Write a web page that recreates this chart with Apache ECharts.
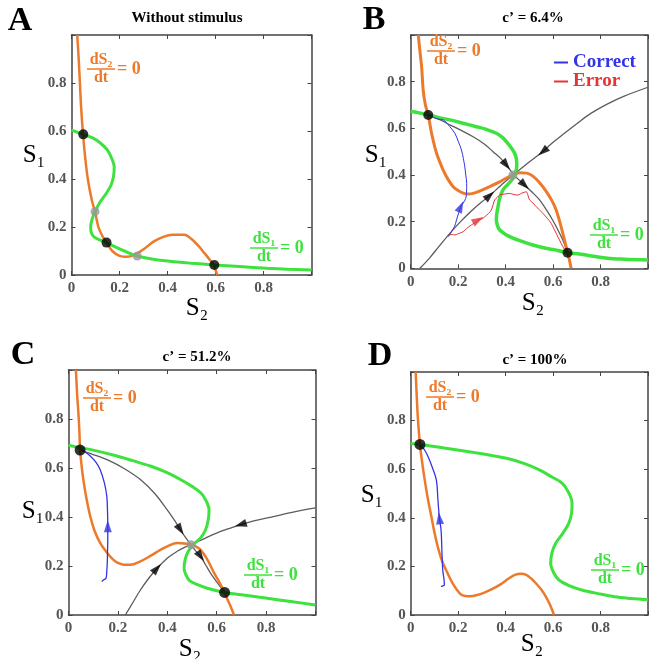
<!DOCTYPE html>
<html lang="en">
<head>
	<meta charset="UTF-8">
	<title>phase plane</title>
	<style>html,body{margin:0;padding:0;background:#fff}</style>
</head>
<body>
	<div id="main" style="width: 651px;height: 659px"></div>
	<script src="https://cdn.jsdelivr.net/npm/echarts@6/dist/echarts.min.js"></script>
	<script>
		// panel A - without stimulus  (points are [S2, S1])
		var orangeA = [[0.024,1.0],[0.030,0.90],[0.035,0.80],[0.040,0.70],[0.047,0.60],[0.056,0.50],[0.068,0.40],[0.085,0.31],[0.098,0.264],[0.112,0.20],[0.13,0.16],[0.146,0.135],[0.17,0.10],[0.20,0.08],[0.23,0.076],[0.26,0.083],[0.30,0.107],[0.34,0.138],[0.38,0.158],[0.42,0.168],[0.47,0.168],[0.50,0.15],[0.53,0.12],[0.555,0.09],[0.575,0.065],[0.59,0.045],[0.60,0.022],[0.607,0]];
		var greenA = [[0,0.604],[0.049,0.586],[0.09,0.57],[0.12,0.55],[0.15,0.52],[0.17,0.48],[0.178,0.45],[0.175,0.41],[0.165,0.375],[0.145,0.34],[0.12,0.305],[0.098,0.264],[0.085,0.23],[0.08,0.20],[0.083,0.175],[0.095,0.158],[0.12,0.145],[0.146,0.135],[0.18,0.118],[0.22,0.10],[0.274,0.079],[0.34,0.066],[0.40,0.058],[0.50,0.049],[0.595,0.042],[0.70,0.035],[0.813,0.028],[0.90,0.024],[1.0,0.021]];
		var stableA = [[0.049,0.586],[0.146,0.135],[0.595,0.042]];
		var saddleA = [[0.098,0.264],[0.274,0.079]];

		// panel B - c' = 6.4%
		var orangeB = [[0.032,1.0],[0.04,0.92],[0.046,0.864],[0.053,0.76],[0.062,0.70],[0.074,0.657],[0.088,0.579],[0.109,0.493],[0.137,0.421],[0.158,0.38],[0.179,0.35],[0.20,0.333],[0.221,0.322],[0.242,0.318],[0.263,0.321],[0.30,0.335],[0.333,0.35],[0.37,0.368],[0.40,0.385],[0.431,0.40],[0.46,0.41],[0.49,0.408],[0.515,0.395],[0.545,0.365],[0.571,0.33],[0.595,0.29],[0.613,0.25],[0.628,0.20],[0.641,0.15],[0.652,0.105],[0.661,0.067],[0.669,0.035],[0.676,0]];
		var greenB = [[0,0.673],[0.04,0.665],[0.074,0.657],[0.12,0.646],[0.165,0.636],[0.22,0.622],[0.277,0.607],[0.32,0.595],[0.361,0.579],[0.385,0.562],[0.403,0.543],[0.425,0.515],[0.438,0.493],[0.446,0.465],[0.447,0.436],[0.440,0.405],[0.428,0.382],[0.41,0.36],[0.389,0.336],[0.375,0.30],[0.368,0.264],[0.363,0.235],[0.361,0.207],[0.366,0.182],[0.375,0.164],[0.40,0.145],[0.431,0.129],[0.47,0.115],[0.515,0.10],[0.56,0.088],[0.598,0.081],[0.661,0.067],[0.711,0.061],[0.77,0.052],[0.829,0.043],[0.90,0.039],[1.0,0.036]];
		var sepInB = [[0.039,0],[0.08,0.045],[0.12,0.095],[0.165,0.15],[0.21,0.20],[0.26,0.25],[0.30,0.285],[0.333,0.312],[0.38,0.355],[0.431,0.40],[0.49,0.448],[0.55,0.495],[0.60,0.54],[0.648,0.579],[0.70,0.62],[0.759,0.664],[0.83,0.705],[0.90,0.738],[1.0,0.776]];
		var sepOutB = [[0.074,0.657],[0.12,0.638],[0.165,0.615],[0.215,0.59],[0.263,0.564],[0.31,0.533],[0.347,0.50],[0.38,0.47],[0.403,0.443],[0.431,0.405],[0.455,0.38],[0.48,0.357],[0.51,0.328],[0.543,0.293],[0.572,0.25],[0.598,0.207],[0.62,0.165],[0.641,0.121],[0.661,0.067]];
		var correctB = [[0.158,0.135],[0.172,0.157],[0.185,0.18],[0.193,0.207],[0.203,0.24],[0.211,0.264],[0.221,0.279],[0.232,0.30],[0.235,0.321],[0.236,0.364],[0.232,0.40],[0.228,0.435],[0.222,0.47],[0.214,0.507],[0.20,0.545],[0.186,0.579],[0.165,0.607],[0.15,0.625],[0.137,0.636],[0.115,0.64],[0.095,0.647],[0.074,0.657]];
		var errorB = [[0.158,0.14],[0.165,0.143],[0.175,0.145],[0.186,0.143],[0.20,0.148],[0.221,0.157],[0.235,0.17],[0.256,0.186],[0.27,0.195],[0.284,0.207],[0.30,0.212],[0.312,0.221],[0.328,0.235],[0.34,0.25],[0.348,0.275],[0.354,0.293],[0.365,0.305],[0.375,0.314],[0.395,0.318],[0.417,0.321],[0.435,0.316],[0.452,0.314],[0.468,0.322],[0.487,0.328],[0.495,0.31],[0.501,0.293],[0.515,0.28],[0.529,0.264],[0.543,0.25],[0.557,0.236],[0.575,0.215],[0.592,0.193],[0.603,0.17],[0.613,0.15],[0.627,0.121],[0.635,0.105],[0.641,0.093],[0.648,0.082],[0.655,0.076],[0.661,0.067]];
		var stableB = [[0.074,0.657],[0.661,0.067]];
		var saddleB = [[0.431,0.40]];

		// panel C - c' = 51.2%
		var orangeC = [[0.03,1.0],[0.035,0.90],[0.04,0.826],[0.044,0.75],[0.047,0.673],[0.053,0.61],[0.06,0.553],[0.072,0.48],[0.088,0.403],[0.105,0.345],[0.128,0.294],[0.155,0.255],[0.182,0.225],[0.20,0.213],[0.223,0.205],[0.25,0.205],[0.291,0.219],[0.33,0.24],[0.372,0.266],[0.40,0.28],[0.44,0.294],[0.47,0.292],[0.496,0.287],[0.515,0.28],[0.535,0.266],[0.56,0.23],[0.59,0.171],[0.61,0.135],[0.632,0.092],[0.645,0.06],[0.657,0.034],[0.67,0]];
		var greenC = [[0,0.693],[0.047,0.683],[0.10,0.673],[0.196,0.649],[0.26,0.63],[0.331,0.608],[0.39,0.585],[0.453,0.553],[0.50,0.525],[0.535,0.499],[0.555,0.47],[0.569,0.43],[0.566,0.39],[0.555,0.348],[0.535,0.315],[0.508,0.29],[0.485,0.26],[0.472,0.225],[0.468,0.19],[0.475,0.165],[0.49,0.14],[0.52,0.125],[0.562,0.109],[0.632,0.092],[0.70,0.083],[0.805,0.068],[0.90,0.055],[1.0,0.041]];
		var sepInC = [[0.23,0],[0.26,0.05],[0.291,0.102],[0.325,0.15],[0.358,0.19],[0.40,0.232],[0.44,0.26],[0.47,0.276],[0.496,0.287],[0.55,0.312],[0.602,0.335],[0.65,0.353],[0.697,0.369],[0.75,0.384],[0.805,0.396],[0.90,0.418],[1.0,0.437]];
		var sepOutC = [[0.047,0.673],[0.10,0.655],[0.169,0.628],[0.23,0.595],[0.291,0.553],[0.35,0.495],[0.399,0.43],[0.43,0.385],[0.453,0.348],[0.475,0.315],[0.496,0.287],[0.515,0.262],[0.535,0.239],[0.555,0.205],[0.575,0.171],[0.60,0.135],[0.632,0.092]];
		var correctC = [[0.135,0.137],[0.142,0.143],[0.152,0.15],[0.155,0.18],[0.157,0.212],[0.158,0.26],[0.159,0.31],[0.159,0.362],[0.158,0.42],[0.155,0.485],[0.145,0.54],[0.128,0.594],[0.11,0.625],[0.088,0.649],[0.07,0.663],[0.054,0.673]];
		var stableC = [[0.047,0.673],[0.632,0.092]];
		var saddleC = [[0.496,0.287]];

		// panel D - c' = 100%
		var orangeD = [[0.021,1.0],[0.025,0.91],[0.029,0.83],[0.034,0.76],[0.039,0.70],[0.048,0.63],[0.059,0.556],[0.072,0.48],[0.087,0.405],[0.10,0.34],[0.114,0.281],[0.133,0.22],[0.156,0.171],[0.18,0.125],[0.211,0.085],[0.232,0.078],[0.252,0.077],[0.28,0.082],[0.308,0.091],[0.34,0.105],[0.377,0.125],[0.41,0.148],[0.439,0.165],[0.465,0.17],[0.487,0.165],[0.51,0.148],[0.528,0.13],[0.55,0.105],[0.57,0.075],[0.588,0.04],[0.604,0]];
		var greenD = [[0,0.706],[0.039,0.702],[0.10,0.693],[0.197,0.679],[0.30,0.664],[0.404,0.645],[0.48,0.623],[0.542,0.597],[0.595,0.568],[0.639,0.542],[0.665,0.505],[0.68,0.46],[0.678,0.42],[0.666,0.377],[0.64,0.335],[0.611,0.295],[0.595,0.255],[0.59,0.213],[0.602,0.175],[0.625,0.144],[0.67,0.12],[0.721,0.103],[0.79,0.088],[0.859,0.075],[0.93,0.068],[1.0,0.063]];
		var correctD = [[0.128,0.117],[0.135,0.12],[0.142,0.123],[0.14,0.15],[0.135,0.185],[0.132,0.25],[0.128,0.35],[0.121,0.398],[0.115,0.47],[0.108,0.556],[0.09,0.61],[0.073,0.652],[0.058,0.68],[0.046,0.693],[0.039,0.70]];
		var stableD = [[0.039,0.702]];

		// arrow heads: [S2, S1, +1 along the curve / -1 against it]
		var arrowsInB = [[0.333,0.312,1],[0.557,0.50,-1]];
		var arrowsOutB = [[0.403,0.443,1],[0.48,0.357,1]];
		var arrowsCorrectB = [[0.211,0.264,1]];
		var arrowsErrorB = [[0.284,0.207,1]];
		var arrowsInC = [[0.358,0.19,1],[0.697,0.369,-1]];
		var arrowsOutC = [[0.453,0.348,1],[0.535,0.239,1]];
		var arrowsCorrectC = [[0.159,0.362,1]];
		var arrowsCorrectD = [[0.121,0.398,1]];

		var tickValues = ['0', '0.2', '0.4', '0.6', '0.8'];
		var panelLetters = ['A', 'B', 'C', 'D'];
		var panelTitles = ['Without stimulus', 'c\u2019 = 6.4%', 'c\u2019 = 51.2%', 'c\u2019 = 100%'];

		var orange = '#ec7a2a', green = '#3ee23e', gray = '#5c5c5c', blue = '#3434e6', red = '#e63434';
		var serif = '"Liberation Serif", "DejaVu Serif", serif';

		var grids = [
			{left: 71.5, top: 35, width: 240, height: 240},
			{left: 410.7, top: 35, width: 238.3, height: 233.3},
			{left: 68.5, top: 370, width: 247, height: 245},
			{left: 410.7, top: 372, width: 241.7, height: 243}
		];

		var xAxes = [], yAxes = [];
		function fmt(v) {
			var s = (Math.round(v * 10) / 10).toString();
			return tickValues.indexOf(s) >= 0 ? s : '';
		}
		grids.forEach(function (g, i) {
			var line = {show: true, onZero: false, lineStyle: {color: '#444', width: 1.5}};
			var tick = {show: true, inside: true, length: 4, lineStyle: {color: '#444', width: 1}};
			var lab = {color: '#555', fontFamily: serif, fontWeight: 'bold', fontSize: 15, formatter: fmt};
			xAxes.push({gridIndex: i, type: 'value', min: 0, max: 1, interval: 0.2, position: 'bottom',
				axisLine: line, axisTick: tick, splitLine: {show: false},
				axisLabel: Object.assign({margin: 6}, lab)});
			xAxes.push({gridIndex: i, type: 'value', min: 0, max: 1, interval: 0.2, position: 'top',
				axisLine: line, axisTick: tick, splitLine: {show: false}, axisLabel: {show: false}});
			yAxes.push({gridIndex: i, type: 'value', min: 0, max: 1, interval: 0.2, position: 'left',
				axisLine: line, axisTick: tick, splitLine: {show: false},
				axisLabel: Object.assign({margin: 5}, lab)});
			yAxes.push({gridIndex: i, type: 'value', min: 0, max: 1, interval: 0.2, position: 'right',
				axisLine: line, axisTick: tick, splitLine: {show: false}, axisLabel: {show: false}});
		});

		var series = [];
		function curve(i, name, data, color, width, z) {
			series.push({name: name, type: 'line', xAxisIndex: 2 * i, yAxisIndex: 2 * i, data: data,
				showSymbol: false, symbol: 'none', smooth: 0.35, clip: true, silent: true, z: z,
				lineStyle: {color: color, width: width}, itemStyle: {color: color}});
		}
		function dots(i, data, color, size) {
			series.push({type: 'scatter', xAxisIndex: 2 * i, yAxisIndex: 2 * i, data: data,
				symbolSize: size, itemStyle: {color: color}, z: 6, silent: true});
		}
		function arrows(i, path, marks, color) {
			var items = marks.map(function (m) {
				var best = 0, bd = 1e9;
				path.forEach(function (p, k) {
					var d = (p[0] - m[0]) * (p[0] - m[0]) + (p[1] - m[1]) * (p[1] - m[1]);
					if (d < bd) { bd = d; best = k; }
				});
				var a = path[Math.max(best - 1, 0)], b = path[Math.min(best + 1, path.length - 1)];
				var ang = Math.atan2((b[1] - a[1]) * m[2], (b[0] - a[0]) * m[2]) * 180 / Math.PI;
				return {value: [m[0], m[1]], symbolRotate: ang - 90};
			});
			series.push({type: 'scatter', xAxisIndex: 2 * i, yAxisIndex: 2 * i, data: items,
				symbol: 'triangle', symbolSize: [8, 12], itemStyle: {color: color}, z: 7, silent: true});
		}

		curve(0, 'nullS2A', orangeA, orange, 2.5, 3);
		curve(0, 'nullS1A', greenA, green, 3, 3);
		dots(0, stableA, '#000', 10);
		dots(0, saddleA, '#999', 9);

		curve(1, 'sepInB', sepInB, gray, 1.3, 2);
		curve(1, 'sepOutB', sepOutB, gray, 1.3, 2);
		curve(1, 'nullS2B', orangeB, orange, 3, 3);
		curve(1, 'nullS1B', greenB, green, 3.5, 3);
		curve(1, 'Correct', correctB, blue, 1, 4);
		curve(1, 'Error', errorB, red, 1, 4);
		arrows(1, sepInB, arrowsInB, '#000');
		arrows(1, sepOutB, arrowsOutB, '#000');
		arrows(1, correctB, arrowsCorrectB, blue);
		arrows(1, errorB, arrowsErrorB, red);
		dots(1, stableB, '#000', 10);
		dots(1, saddleB, '#999', 9);

		curve(2, 'sepInC', sepInC, gray, 1.3, 2);
		curve(2, 'sepOutC', sepOutC, gray, 1.3, 2);
		curve(2, 'nullS2C', orangeC, orange, 2.5, 3);
		curve(2, 'nullS1C', greenC, green, 3, 3);
		curve(2, 'correctC', correctC, blue, 1.3, 4);
		arrows(2, sepInC, arrowsInC, '#000');
		arrows(2, sepOutC, arrowsOutC, '#000');
		arrows(2, correctC, arrowsCorrectC, blue);
		dots(2, stableC, '#000', 11);
		dots(2, saddleC, '#999', 9);

		curve(3, 'nullS2D', orangeD, orange, 2.5, 3);
		curve(3, 'nullS1D', greenD, green, 3, 3);
		curve(3, 'correctD', correctD, blue, 1.3, 4);
		arrows(3, correctD, arrowsCorrectD, blue);
		dots(3, stableD, '#000', 11);

		// texts: panel letters, titles, axis names and nullcline labels
		var graphic = [];
		function txt(x, y, s, font, color) {
			graphic.push({type: 'text', x: x, y: y, z: 10, silent: true,
				style: {text: s, font: font, fill: color || '#000', align: 'center', verticalAlign: 'middle'}});
		}
		function frac(cx, cy, sub, color) {
			graphic.push({type: 'text', x: cx, y: cy - 1, z: 10, silent: true,
				style: {text: 'dS' + sub, font: 'bold 16px ' + serif, fill: color, align: 'center', verticalAlign: 'bottom'}});
			graphic.push({type: 'line', z: 10, silent: true, shape: {x1: cx - 14, y1: cy, x2: cx + 14, y2: cy},
				style: {stroke: color, lineWidth: 1.5}});
			graphic.push({type: 'text', x: cx, y: cy + 1, z: 10, silent: true,
				style: {text: 'dt', font: 'bold 16px ' + serif, fill: color, align: 'center', verticalAlign: 'top'}});
			graphic.push({type: 'text', x: cx + 16, y: cy, z: 10, silent: true,
				style: {text: '= 0', font: 'bold 18px ' + serif, fill: color, align: 'left', verticalAlign: 'middle'}});
		}
		var letterPos = [[20, 21], [374, 20], [23, 355], [380, 356]];
		var titlePos = [[187, 18], [533, 18], [197, 357], [535, 360]];
		var s1Pos = [[34, 155], [376, 155], [33, 511], [372, 495]];
		var s2Pos = [[197, 308], [533, 303], [190, 649], [532, 644]];
		var orangeLab = [[101, 69], [441, 51], [97, 398], [440, 397]];
		var greenLab = [[264, 248], [604, 235], [258, 575], [605, 570]];
		for (var i = 0; i < 4; i++) {
			txt(letterPos[i][0], letterPos[i][1], panelLetters[i], 'bold 34px ' + serif);
			txt(titlePos[i][0], titlePos[i][1], panelTitles[i], 'bold 15px ' + serif);
			txt(s1Pos[i][0], s1Pos[i][1], 'S\u2081', '25px ' + serif);
			txt(s2Pos[i][0], s2Pos[i][1], 'S\u2082', '25px ' + serif);
			frac(orangeLab[i][0], orangeLab[i][1], '\u2082', orange);
			frac(greenLab[i][0], greenLab[i][1], '\u2081', green);
		}

		var myChart = echarts.init(document.getElementById('main'), null, {renderer: 'canvas'});
		var option = {
			animation: false,
			backgroundColor: '#fff',
			grid: grids,
			xAxis: xAxes,
			yAxis: yAxes,
			legend: {
				left: 549, top: 48, orient: 'vertical', itemGap: 0, itemWidth: 14, itemHeight: 2,
				icon: 'rect', selectedMode: false,
				textStyle: {fontFamily: serif, fontWeight: 'bold', fontSize: 19, lineHeight: 16},
				data: [{name: 'Correct', textStyle: {color: blue}}, {name: 'Error', textStyle: {color: red}}]
			},
			series: series,
			graphic: graphic
		};
		myChart.setOption(option);
	</script>
</body>
</html>
